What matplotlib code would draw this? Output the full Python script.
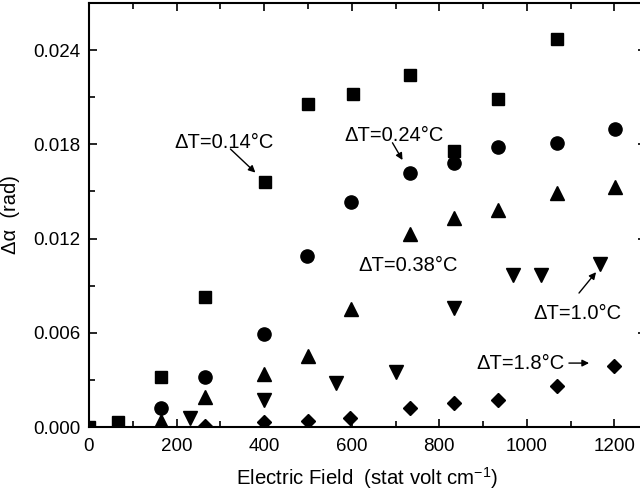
import matplotlib
matplotlib.use("Agg")
import matplotlib.pyplot as plt
from matplotlib.ticker import MultipleLocator

plt.rcParams['font.family'] = ['Liberation Sans', 'DejaVu Sans']
plt.rcParams['axes.unicode_minus'] = False

# Data
x_014 = [0, 66, 165, 266, 401, 499, 602, 734, 833, 933, 1068]
y_014 = [0.0000, 0.0003, 0.0032, 0.0083, 0.0156, 0.0206, 0.0212, 0.0224, 0.0176, 0.0209, 0.0247]

x_024 = [165, 266, 399, 498, 599, 732, 833, 933, 1068, 1201]
y_024 = [0.0012, 0.0032, 0.0059, 0.0109, 0.0143, 0.0162, 0.0168, 0.0178, 0.0181, 0.0190]

x_038 = [165, 266, 399, 499, 599, 732, 833, 933, 1068, 1201]
y_038 = [0.0004, 0.0019, 0.0034, 0.0045, 0.0075, 0.0123, 0.0133, 0.0138, 0.0149, 0.0153]

x_10 = [231, 399, 563, 700, 833, 968, 1032, 1167]
y_10 = [0.0006, 0.0017, 0.0028, 0.0035, 0.0076, 0.0097, 0.0097, 0.0104]

x_18 = [266, 399, 499, 597, 732, 833, 933, 1068, 1199]
y_18 = [0.00005, 0.0003, 0.0004, 0.0006, 0.0012, 0.0015, 0.0017, 0.0026, 0.0039]

x_ticks = [0, 200, 400, 600, 800, 1000, 1200]
y_ticks = [0.000, 0.006, 0.012, 0.018, 0.024]

fig = plt.figure(figsize=(6.4, 5.0), dpi=100)
ax = fig.add_axes([89/640, 73/500, (646-89)/640, (427-3)/500])

ax.plot(x_014, y_014, 's', color='black', markersize=9)
ax.plot(x_024, y_024, 'o', color='black', markersize=9.5)
ax.plot(x_038, y_038, '^', color='black', markersize=10)
ax.plot(x_10, y_10, 'v', color='black', markersize=10)
ax.plot(x_18, y_18, 'D', color='black', markersize=7)

ax.set_xlim(0, 1272)
ax.set_ylim(0, 0.027)
ax.set_xticks(x_ticks)
ax.set_yticks(y_ticks)
ax.set_yticklabels([f"{v:.3f}" for v in y_ticks])
ax.xaxis.set_minor_locator(MultipleLocator(100))
ax.yaxis.set_minor_locator(MultipleLocator(0.003))
ax.tick_params(which='both', direction='in', top=True, right=True, labelsize=13.5, width=1.2)
ax.tick_params(which='major', length=6)
ax.tick_params(axis='x', which='major', pad=8)
ax.tick_params(axis='y', which='major', pad=6)
ax.tick_params(which='minor', length=4)
for s in ax.spines.values():
    s.set_linewidth(1.5)

ax.set_xlabel(r"Electric Field  (stat volt cm$^{\mathregular{-1}}$)", fontsize=14.7, labelpad=7)
ax.set_ylabel("Δα  (rad)", fontsize=14.5, labelpad=10)

fs = 14.5
arrow = dict(arrowstyle='-|>', color='black', lw=1, mutation_scale=10, shrinkA=0, shrinkB=0)
ax.text(309, 0.0181, "ΔT=0.14°C", fontsize=fs, ha='center', va='center')
ax.annotate("", xy=(380, 0.0162), xytext=(323, 0.0177), arrowprops=arrow)
ax.text(696, 0.01858, "ΔT=0.24°C", fontsize=fs, ha='center', va='center')
ax.annotate("", xy=(716, 0.0170), xytext=(693, 0.0181), arrowprops=arrow)
ax.text(728, 0.0103, "ΔT=0.38°C", fontsize=fs, ha='center', va='center')
ax.text(1116, 0.00725, "ΔT=1.0°C", fontsize=fs, ha='center', va='center')
ax.annotate("", xy=(1158, 0.00986), xytext=(1119, 0.00853), arrowprops=arrow)
ax.text(986, 0.00407, "ΔT=1.8°C", fontsize=fs, ha='center', va='center')
ax.annotate("", xy=(1142, 0.00407), xytext=(1096, 0.00407), arrowprops=arrow)

fig.savefig("out.png", dpi=100)
